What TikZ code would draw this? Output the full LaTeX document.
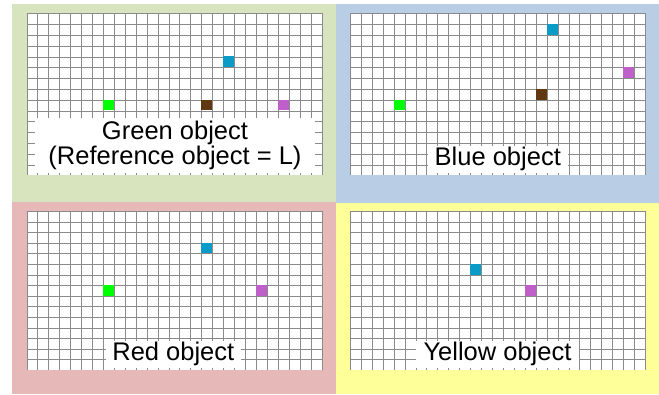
\documentclass[tikz,border=0pt]{standalone}
\usepackage{fontspec}
\setmainfont{Liberation Sans}
\definecolor{pgreen}{HTML}{D7E4BD}
\definecolor{pblue}{HTML}{B9CDE5}
\definecolor{pred}{HTML}{E6B9B8}
\definecolor{pyellow}{HTML}{FFFF99}
\definecolor{ogreen}{HTML}{00FF00}
\definecolor{ocyan}{HTML}{0A9BC6}
\definecolor{obrown}{HTML}{603913}
\definecolor{opurple}{HTML}{BF5FC9}
\definecolor{gline}{HTML}{8A8A8A}
\newcommand\mygrid[3]{%
  \fill[white] (#1,#2) rectangle ({#1+295},{#2+15*#3});
  \foreach \i in {0,...,27} \draw[gridline] ({round(#1+\i*10.926)+0.5},#2) -- ({round(#1+\i*10.926)+0.5},{#2+15*#3});
  \foreach \j in {0,...,14} \draw[gridline] (#1,{round(#2+\j*#3)+0.5}) -- ({#1+295},{round(#2+\j*#3)+0.5});
}
\newcommand\mysq[6]{%
  \fill[#6] ({#1+#4*10.926},{#2+#5*#3}) rectangle ({#1+(#4+1)*10.926},{#2+(#5+1)*#3});
}
\begin{document}
\begin{tikzpicture}[x=1pt,y=-1pt,
  gridline/.style={draw=gline,line width=1pt},
  lab/.style={fill=white,inner sep=0pt,font=\fontsize{25.5}{22}\selectfont},
  lab1/.style={lab,minimum width=#1,minimum height=27.3pt,text height=18pt,text depth=5.5pt}]
\useasboundingbox (0,0) rectangle (659,395);
\fill[pgreen] (12,4) rectangle (336,202);
\fill[pblue] (336,4) rectangle (659,203);
\fill[pred] (12,202) rectangle (336,394);
\fill[pyellow] (336,203) rectangle (659,394);
% grids
\mygrid{26.5}{13.3}{10.8}
\mygrid{350}{13.3}{10.8}
\mygrid{26.5}{211}{10.6}
\mygrid{350}{211}{10.6}
% green panel squares
\mysq{26.5}{13.3}{10.8}{7}{8}{ogreen}
\mysq{26.5}{13.3}{10.8}{18}{4}{ocyan}
\mysq{26.5}{13.3}{10.8}{16}{8}{obrown}
\mysq{26.5}{13.3}{10.8}{23}{8}{opurple}
% blue panel squares
\mysq{350}{13.3}{10.8}{18}{1}{ocyan}
\mysq{350}{13.3}{10.8}{25}{5}{opurple}
\mysq{350}{13.3}{10.8}{17}{7}{obrown}
\mysq{350}{13.3}{10.8}{4}{8}{ogreen}
% red panel squares
\mysq{26.5}{211}{10.6}{16}{3}{ocyan}
\mysq{26.5}{211}{10.6}{7}{7}{ogreen}
\mysq{26.5}{211}{10.6}{21}{7}{opurple}
% yellow panel squares
\mysq{350}{211}{10.6}{11}{5}{ocyan}
\mysq{350}{211}{10.6}{16}{7}{opurple}
% labels
\node[lab,minimum width=280pt,minimum height=55pt,align=center] (lgreen) at (175,145.5) {Green object\\(Reference object = L)};
\node[lab1=140.3pt] (lblue) at (497.8,159.35) {Blue object};
\node[lab1=134.7pt] (lred) at (173.35,354.35) {Red object};
\node[lab1=163pt] (lyellow) at (497.5,354.35) {Yellow object};
\end{tikzpicture}
\end{document}
